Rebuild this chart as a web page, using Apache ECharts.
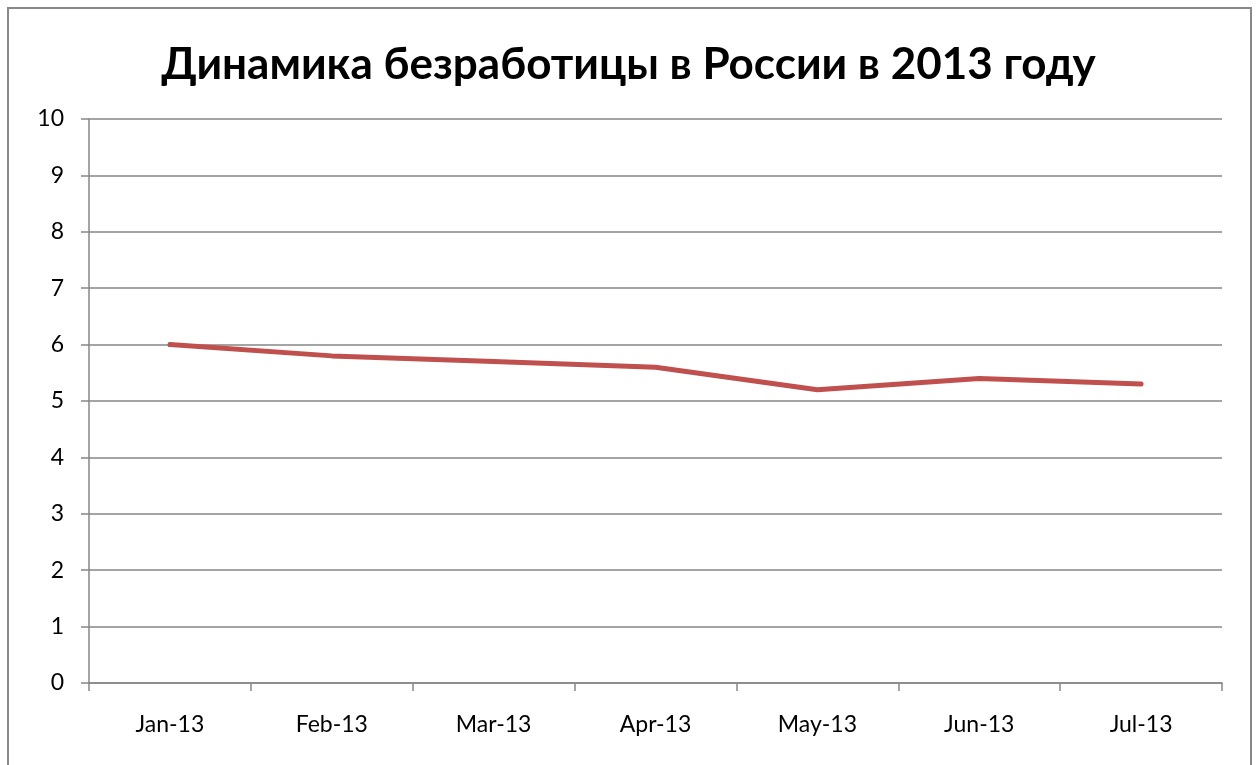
<!DOCTYPE html>
<html><head><meta charset="utf-8">
<script src="https://cdn.jsdelivr.net/npm/echarts@6/dist/echarts.min.js"></script>
<style>html,body{margin:0;padding:0;background:#fff}#c{width:1257px;height:765px}</style>
</head><body><div id="c"></div>
<script>
const titleText = 'Динамика безработицы в России в 2013 году';
const categories = ['Jan-13','Feb-13','Mar-13','Apr-13','May-13','Jun-13','Jul-13'];
const unemployment = [6.0, 5.8, 5.7, 5.6, 5.2, 5.4, 5.3];
const yMin = 0, yMax = 10, yStep = 1;

const chart = echarts.init(document.getElementById('c'), null, {renderer:'canvas'});
const font = 'Lato, "Open Sans", sans-serif';
chart.setOption({
  animation:false,
  backgroundColor:'#fff',
  title:{text:titleText,left:'center',top:38,
    textStyle:{fontFamily:font,fontWeight:'bold',fontSize:44,color:'#000'}},
  graphic:[{type:'rect',shape:{x:8,y:8,width:1243,height:800},
    style:{fill:'none',stroke:'#898989',lineWidth:2},silent:true}],
  grid:{left:89,right:35,top:119,bottom:82},
  xAxis:{type:'category',data:categories,boundaryGap:true,
    axisLine:{lineStyle:{color:'#868686',width:1.5}},
    axisTick:{show:true,length:8,lineStyle:{color:'#868686',width:1.5}},
    axisLabel:{fontFamily:font,fontSize:23,color:'#000',margin:30},
    splitLine:{show:false}},
  yAxis:{type:'value',min:yMin,max:yMax,interval:yStep,
    axisLine:{show:true,lineStyle:{color:'#868686',width:1.5}},
    axisTick:{show:true,length:8,lineStyle:{color:'#868686',width:1.5}},
    axisLabel:{fontFamily:font,fontSize:23,color:'#000',margin:25},
    splitLine:{show:true,lineStyle:{color:'#868686',width:1.5}}},
  series:[{type:'line',data:unemployment,symbol:'none',
    lineStyle:{color:'#C0504D',width:5,cap:'round',join:'round'},
    itemStyle:{color:'#C0504D'}}]
});
</script></body></html>
